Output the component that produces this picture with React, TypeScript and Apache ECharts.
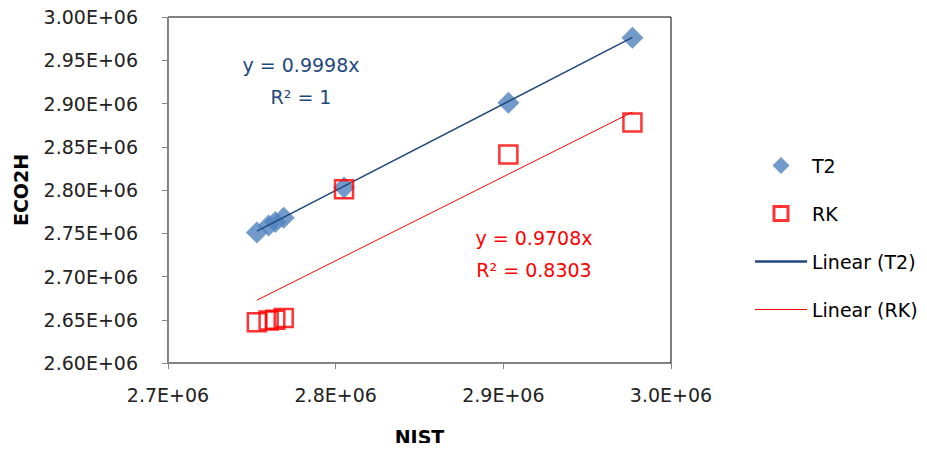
import React, { useEffect, useRef } from "react";
import * as echarts from "echarts";

const nist = [2753000, 2760000, 2764000, 2769000, 2805000, 2903000, 2977000];
const t2 = [2751000, 2759000, 2763000, 2768000, 2803000, 2901000, 2976000];
const rk = [2647000, 2649000, 2650000, 2652000, 2801000, 2841000, 2878000];
const slopeT2 = 0.9998;
const slopeRK = 0.9708;
const r2T2 = "1";
const r2RK = "0.8303";

const FONT = "DejaVu Sans";

export default function App() {
  const ref = useRef<HTMLDivElement>(null);
  useEffect(() => {
    const chart = echarts.init(ref.current!, null, { renderer: "svg" });
    const xmin = Math.min(...nist);
    const xmax = Math.max(...nist);
    chart.setOption({
      animation: false,
      textStyle: { fontFamily: FONT },
      grid: {
        left: 168,
        right: 256,
        top: 17,
        bottom: 87,
        show: true,
        borderColor: "#000",
        borderWidth: 1,
      },
      xAxis: {
        type: "value",
        min: 2700000,
        max: 3000000,
        interval: 100000,
        name: "NIST",
        nameLocation: "middle",
        nameGap: 64,
        nameTextStyle: { fontFamily: FONT, fontSize: 19, fontWeight: "bold", color: "#000" },
        axisLine: { lineStyle: { color: "#868686" } },
        axisTick: { show: true, length: 6, lineStyle: { color: "#868686" } },
        axisLabel: {
          margin: 22,
          fontFamily: FONT,
          fontSize: 19,
          color: "#222",
          formatter: (v: number) => (v / 1e6).toFixed(1) + "E+06",
        },
        splitLine: { show: false },
      },
      yAxis: {
        type: "value",
        min: 2600000,
        max: 3000000,
        interval: 50000,
        name: "ECO2H",
        nameLocation: "middle",
        nameGap: 138,
        nameTextStyle: { fontFamily: FONT, fontSize: 19, fontWeight: "bold", color: "#000" },
        axisLine: { show: true, lineStyle: { color: "#868686" } },
        axisTick: { show: true, length: 6, lineStyle: { color: "#868686" } },
        axisLabel: {
          margin: 30,
          fontFamily: FONT,
          fontSize: 19,
          color: "#222",
          formatter: (v: number) => (v / 1e6).toFixed(2) + "E+06",
        },
        splitLine: { show: false },
      },
      legend: {
        orient: "vertical",
        left: 750,
        top: 151,
        itemWidth: 52,
        itemHeight: 17,
        itemGap: 29,
        textStyle: { fontFamily: FONT, fontSize: 19, color: "#000" },
        data: [
          {
            name: "T2",
            icon: "path://M8,0L16,8L8,16L0,8Z",
            itemStyle: { color: "#4F81BD", borderWidth: 0 },
          },
          {
            name: "RK",
            icon: "path://M0,0H16V16H0Z M2.8,2.8V13.2H13.2V2.8Z",
            itemStyle: { color: "#FF0000", borderWidth: 0 },
          },
          {
            name: "Linear (T2)",
            icon: "path://M0,0H52V2.5H0Z",
            itemStyle: { color: "#1F497D", borderWidth: 0 },
          },
          {
            name: "Linear (RK)",
            icon: "path://M0,0H52V1.2H0Z",
            itemStyle: { color: "#FF0000", borderWidth: 0 },
          },
        ],
      },
      graphic: [
        {
          type: "text",
          x: 301,
          y: 81,
          style: {
            text: "y = " + slopeT2 + "x\nR² = " + r2T2,
            fill: "#1F497D",
            font: `19px "${FONT}"`,
            align: "center",
            verticalAlign: "middle",
            lineHeight: 32,
          },
        },
        {
          type: "text",
          x: 534,
          y: 254,
          style: {
            text: "y = " + slopeRK + "x\nR² = " + r2RK,
            fill: "#FF0000",
            font: `19px "${FONT}"`,
            align: "center",
            verticalAlign: "middle",
            lineHeight: 32,
          },
        },
      ],
      series: [
        {
          name: "Linear (T2)",
          type: "line",
          symbol: "none",
          data: [
            [xmin, xmin * slopeT2],
            [xmax, xmax * slopeT2],
          ],
          lineStyle: { color: "#1F497D", width: 1.5 },
          itemStyle: { color: "#1F497D" },
          z: 3,
        },
        {
          name: "Linear (RK)",
          type: "line",
          symbol: "none",
          data: [
            [xmin, xmin * slopeRK],
            [xmax, xmax * slopeRK],
          ],
          lineStyle: { color: "#FF0000", width: 1 },
          itemStyle: { color: "#FF0000" },
          z: 3,
        },
        {
          name: "RK",
          type: "scatter",
          symbol: "rect",
          symbolSize: 18,
          data: nist.map((x, i) => [x, rk[i]]),
          itemStyle: { color: "rgba(255,255,255,0)", borderColor: "#FF0000", borderWidth: 2.5 },
          z: 4,
        },
        {
          name: "T2",
          type: "scatter",
          symbol: "diamond",
          symbolSize: 22,
          data: nist.map((x, i) => [x, t2[i]]),
          itemStyle: { color: "#4F81BD" },
          z: 2,
        },
      ],
    });
    return () => chart.dispose();
  }, []);
  return <div ref={ref} style={{ width: 927, height: 451, margin: -8 }} />;
}
